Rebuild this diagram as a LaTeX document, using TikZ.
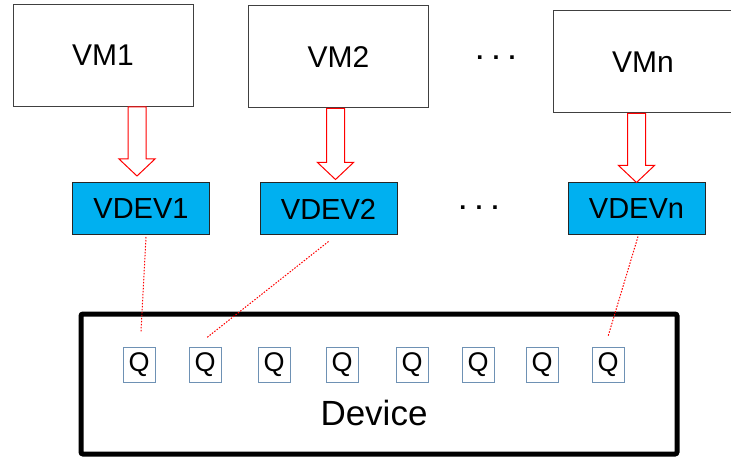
\documentclass[tikz,border=0pt]{standalone}
\usepackage{fontspec}
\setmainfont{Liberation Sans}
\usetikzlibrary{calc}

\definecolor{vdevblue}{RGB}{0,176,240}
\definecolor{qedge}{RGB}{110,145,180}
\definecolor{vmedge}{RGB}{64,64,64}

% hollow block arrow: vm node, vdev node, x offset, gap above vdev
\newcommand{\vmarrow}[4]{%
  \draw[varrow] let \p1=(#1.south), \p2=(#2.north) in
    (\x2+#3-9,\y1) -- (\x2+#3-9,\y2+#4+17) -- (\x2+#3-18,\y2+#4+17)
    -- (\x2+#3,\y2+#4) -- (\x2+#3+18,\y2+#4+17) -- (\x2+#3+9,\y2+#4+17)
    -- (\x2+#3+9,\y1) -- cycle;}

\begin{document}
\begin{tikzpicture}[x=1pt,y=-1pt,
    vm/.style={draw=vmedge,line width=1pt,minimum width=180pt,minimum height=102pt,inner sep=0pt,font=\fontsize{30}{36}\selectfont},
    vdev/.style={draw=black!85,fill=vdevblue,line width=1pt,minimum width=137pt,minimum height=52pt,inner sep=0pt,font=\fontsize{29}{34}\selectfont},
    qbox/.style={draw=qedge,line width=1pt,minimum width=32pt,minimum height=35pt,inner sep=0pt,font=\fontsize{27}{32}\selectfont},
    device/.style={draw=black,line width=5pt,rounded corners=2pt,minimum width=596pt,minimum height=140pt,inner sep=0pt},
    dots/.style={font=\fontsize{25}{30}\selectfont\bfseries,inner sep=0pt,anchor=base},
    link/.style={red,line width=1pt,dash pattern=on 1.5pt off 1.5pt},
    varrow/.style={draw=red,line width=1pt,fill=white}]
    \useasboundingbox (0,0) rectangle (731,457);

    \node[vm] (vm1) at (103,55.5) {VM1};
    \node[vm] (vm2) at (338.5,57) {VM2};
    \node[vm] (vmn) at (643,62) {VMn};
    \node[dots] (topdots) at (496,60) {. . .};

    \node[vdev] (vdev1) at (141,208.5) {VDEV1};
    \node[vdev] (vdev2) at (328.5,209) {VDEV2};
    \node[vdev] (vdevn) at (636.5,209) {VDEVn};
    \node[dots] (middots) at (479,210) {. . .};

    \vmarrow{vm1}{vdev1}{-4}{6}
    \vmarrow{vm2}{vdev2}{7}{3}
    \vmarrow{vmn}{vdevn}{0}{0}

    \node[device] (device) at (379,384) {};
    \node[font=\fontsize{35}{42}\selectfont,anchor=base] (devlabel) at (374,425) {Device};
    \foreach \i/\x in {1/139,2/205,3/274,4/342,5/412,6/478,7/542,8/608}
        \node[qbox] (q\i) at (\x,364.5) {Q};

    \draw[link] ([xshift=5pt,yshift=-2pt]vdev1.south) -- ([xshift=2pt,yshift=15pt]q1.north);
    \draw[link] ([yshift=-6pt]vdev2.south) -- ([xshift=2pt,yshift=9pt]q2.north);
    \draw[link] ([xshift=1.5pt,yshift=-1pt]vdevn.south) -- ([yshift=10pt]q8.north);
\end{tikzpicture}
\end{document}
